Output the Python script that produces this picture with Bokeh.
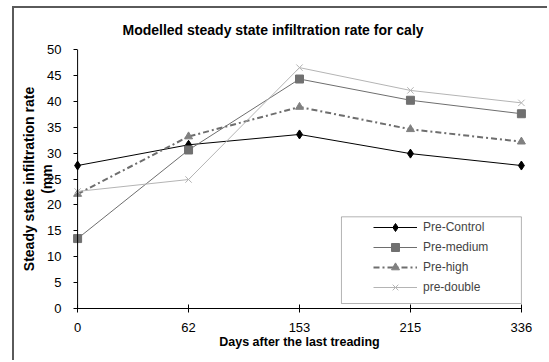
from bokeh.plotting import figure
from bokeh.models import (ColumnDataSource, FixedTicker, Range1d, Legend, LegendItem,
                          BoxAnnotation, Span)
from bokeh.embed import file_html
from bokeh.resources import INLINE

# ---- data ----
days = ["0", "62", "153", "215", "336"]
pre_control = [27.6, 31.6, 33.6, 29.9, 27.6]
pre_medium = [13.5, 30.6, 44.3, 40.2, 37.6]
pre_high = [22.1, 33.2, 38.9, 34.6, 32.2]
pre_double = [22.6, 24.9, 46.5, 42.1, 39.7]

title = "Modelled steady state infiltration rate for caly"
x_title = "Days after the last treading"
y_title = "Steady state infiltration rate\n(mm"

FONT = "Liberation Sans"

xs = list(range(len(days)))
n = len(days) - 1

p = figure(width=535, height=354, output_backend="svg", toolbar_location=None,
           x_range=Range1d(-0.1, n + 0.1), y_range=Range1d(0, 50),
           min_border_left=52, min_border_right=17, min_border_top=40, min_border_bottom=54)
p.margin = (6, 0, 0, 12)
p.styles = {"border-top": "2px solid #5a5a5a", "border-left": "2px solid #5a5a5a"}

p.title.text = title
p.title.align = "left"
p.title.offset = 56
p.title.standoff = 23
p.title.text_font = FONT
p.title.text_font_size = "14px"
p.title.text_font_style = "bold"
p.title.text_color = "#000000"

p.outline_line_color = None
p.grid.visible = False
p.background_fill_color = "white"
p.border_fill_color = "white"

# x axis
p.xaxis.ticker = FixedTicker(ticks=xs)
p.xaxis.major_label_overrides = {i: d for i, d in enumerate(days)}
p.xaxis.minor_tick_line_color = None
p.xaxis.major_tick_in = 4
p.xaxis.major_tick_out = 4
p.xaxis.bounds = (0, n)
p.xaxis.major_label_standoff = 10
p.xaxis.axis_label = x_title
p.xaxis.axis_label_text_font = FONT
p.xaxis.axis_label_text_font_size = "12.5px"
p.xaxis.axis_label_text_font_style = "bold"
p.xaxis.axis_label_text_color = "#000000"
p.xaxis.axis_label_standoff = 0

# y axis (frame edge is 0.1 unit left of x=0; ticks shifted onto x=0)
p.yaxis.ticker = FixedTicker(ticks=list(range(0, 51, 5)))
p.yaxis.minor_tick_line_color = None
p.yaxis.major_tick_in = 11
p.yaxis.major_tick_out = -7
p.yaxis.major_label_standoff = 5
p.yaxis.axis_line_color = None
p.yaxis.axis_label = y_title
p.yaxis.axis_label_text_font = FONT
p.yaxis.axis_label_text_font_size = "14px"
p.yaxis.axis_label_text_font_style = "bold"
p.yaxis.axis_label_text_color = "#000000"
p.yaxis.axis_label_text_line_height = 1.1
p.yaxis.axis_label_standoff = -11

for ax in (p.xaxis, p.yaxis):
    ax.major_label_text_font = FONT
    ax.major_label_text_font_size = "13px"
    ax.major_label_text_color = "#000000"
    ax.major_tick_line_color = "#000000"
p.xaxis.axis_line_color = "#000000"

p.add_layout(Span(location=0, dimension="height", line_color="#000000", line_width=1))

src = ColumnDataSource(dict(x=xs, c=pre_control, m=pre_medium, h=pre_high, d=pre_double))

lc = p.line("x", "c", source=src, line_color="#000000", line_width=1)
mc = p.scatter("x", "c", source=src, marker="diamond", size=9, fill_color="#000000", line_color="#000000")

lm = p.line("x", "m", source=src, line_color="#6e6e6e", line_width=1)
mm = p.scatter("x", "m", source=src, marker="square", size=8, fill_color="#707070", line_color="#707070")

lh = p.line("x", "h", source=src, line_color="#6e6e6e", line_width=2, line_dash="6 3 2 3")
mh = p.scatter("x", "h", source=src, marker="triangle", size=8, fill_color="#808080", line_color="#808080")

ld = p.line("x", "d", source=src, line_color="#b4b4b4", line_width=1)
md = p.scatter("x", "d", source=src, marker="x", size=9, line_color="#b4b4b4", line_width=1)

# legend box
box = BoxAnnotation(left=2.378, right=n, bottom=0.96, top=17.7,
                    fill_color="white", fill_alpha=1, line_color="#000000", line_width=1)
p.add_layout(box)

legend = Legend(items=[
    LegendItem(label="Pre-Control", renderers=[lc, mc]),
    LegendItem(label="Pre-medium", renderers=[lm, mm]),
    LegendItem(label="Pre-high", renderers=[lh, mh]),
    LegendItem(label="pre-double", renderers=[ld, md]),
], location=(307, 11), padding=0, margin=0, spacing=0, glyph_width=44, glyph_height=20,
    label_height=20, label_standoff=6, border_line_alpha=0, background_fill_alpha=0,
    label_text_font=FONT, label_text_font_size="12px")
p.add_layout(legend)

open("out.html", "w").write(file_html(p, INLINE))
